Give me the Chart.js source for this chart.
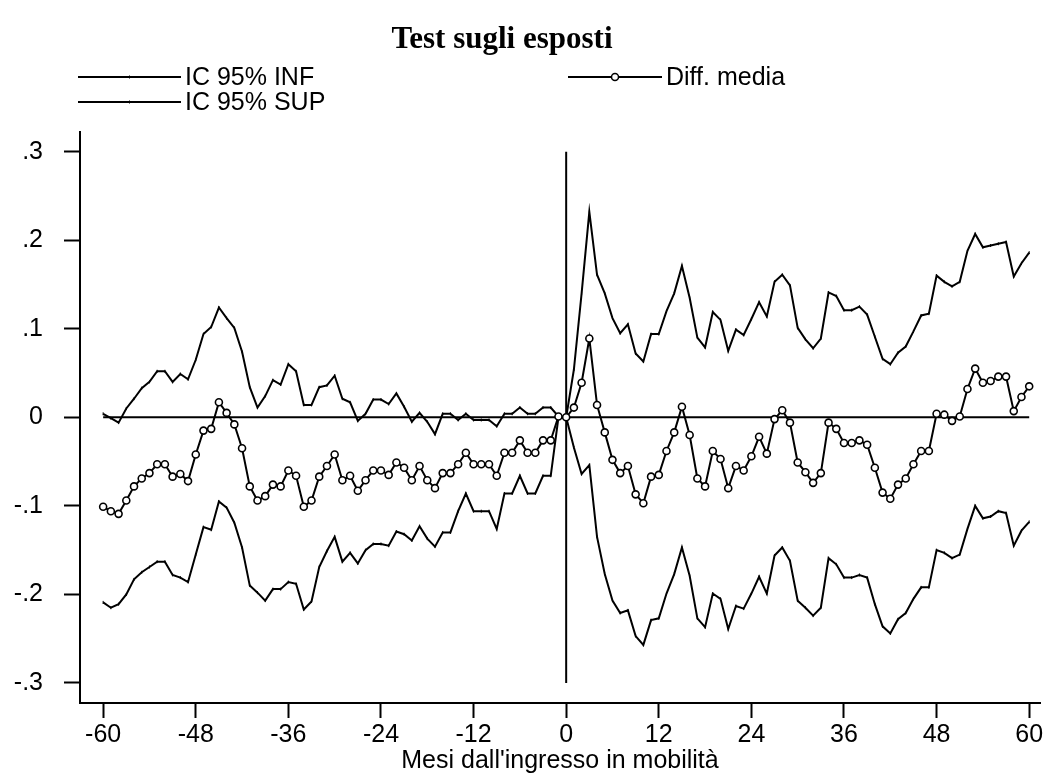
<!DOCTYPE html>
<html>
<head>
<meta charset="utf-8">
<script src="https://cdn.jsdelivr.net/npm/chart.js@4/dist/chart.umd.min.js"></script>
<style>
  html, body { margin: 0; padding: 0; background: #fff; }
  #wrap { width: 1047px; height: 776px; }
</style>
</head>
<body>
<div id="wrap"><canvas id="grafico" width="1047" height="776"></canvas></div>
<script>
// mesi dall'ingresso: da -60 a 60
const mesi = Array.from({ length: 121 }, (_, i) => i - 60);

const icSup = [
    0.004, -0.001, -0.006, 0.010, 0.021, 0.033, 0.040, 0.052, 0.052, 0.040,
    0.049, 0.043, 0.065, 0.094, 0.102, 0.124, 0.112, 0.101, 0.074, 0.034,
    0.011, 0.024, 0.042, 0.037, 0.060, 0.052, 0.014, 0.014, 0.034, 0.036,
    0.047, 0.021, 0.017, -0.004, 0.004, 0.020, 0.020, 0.015, 0.027, 0.012,
    -0.005, 0.005, -0.005, -0.019, 0.004, 0.004, -0.003, 0.004, -0.003, -0.003,
    -0.003, -0.010, 0.004, 0.004, 0.011, 0.004, 0.004, 0.011, 0.011, 0.001,
    0.000, 0.054, 0.140, 0.232, 0.161, 0.140, 0.112, 0.095, 0.105, 0.072,
    0.063, 0.094, 0.094, 0.120, 0.140, 0.171, 0.135, 0.090, 0.079, 0.119,
    0.110, 0.075, 0.099, 0.093, 0.111, 0.130, 0.114, 0.153, 0.161, 0.149,
    0.101, 0.088, 0.078, 0.089, 0.141, 0.137, 0.121, 0.121, 0.125, 0.116,
    0.091, 0.066, 0.060, 0.073, 0.080, 0.097, 0.115, 0.117, 0.160, 0.153,
    0.148, 0.153, 0.188, 0.207, 0.192, 0.194, 0.196, 0.198, 0.159, 0.174,
    0.186
];

const icInf = [
    -0.209, -0.215, -0.211, -0.200, -0.183, -0.175, -0.169, -0.163, -0.163, -0.178,
    -0.181, -0.186, -0.155, -0.124, -0.127, -0.095, -0.102, -0.119, -0.147, -0.190,
    -0.198, -0.207, -0.194, -0.194, -0.186, -0.188, -0.217, -0.208, -0.169, -0.151,
    -0.135, -0.163, -0.153, -0.165, -0.150, -0.143, -0.143, -0.145, -0.129, -0.132,
    -0.139, -0.123, -0.137, -0.146, -0.130, -0.130, -0.106, -0.086, -0.106, -0.106,
    -0.106, -0.126, -0.086, -0.086, -0.066, -0.086, -0.086, -0.066, -0.066, 0.000,
    0.000, -0.034, -0.064, -0.054, -0.135, -0.177, -0.207, -0.221, -0.218, -0.247,
    -0.257, -0.229, -0.227, -0.199, -0.177, -0.147, -0.179, -0.227, -0.237, -0.199,
    -0.205, -0.239, -0.213, -0.216, -0.199, -0.180, -0.199, -0.156, -0.147, -0.162,
    -0.207, -0.215, -0.224, -0.215, -0.159, -0.166, -0.181, -0.181, -0.178, -0.181,
    -0.211, -0.236, -0.244, -0.228, -0.221, -0.205, -0.192, -0.192, -0.150, -0.153,
    -0.159, -0.155, -0.126, -0.100, -0.114, -0.112, -0.106, -0.108, -0.145, -0.128,
    -0.118
];

const diffMedia = [
    -0.101, -0.106, -0.109, -0.094, -0.078, -0.069, -0.063, -0.053, -0.053, -0.067,
    -0.064, -0.072, -0.042, -0.015, -0.013, 0.017, 0.005, -0.008, -0.035, -0.078,
    -0.094, -0.089, -0.076, -0.078, -0.060, -0.066, -0.101, -0.094, -0.067, -0.055,
    -0.042, -0.071, -0.066, -0.083, -0.071, -0.060, -0.060, -0.065, -0.051, -0.057,
    -0.071, -0.055, -0.071, -0.080, -0.063, -0.063, -0.053, -0.040, -0.053, -0.053,
    -0.053, -0.066, -0.040, -0.040, -0.026, -0.040, -0.040, -0.026, -0.026, 0.001,
    0.000, 0.011, 0.039, 0.089, 0.014, -0.017, -0.048, -0.063, -0.055, -0.087,
    -0.097, -0.067, -0.065, -0.038, -0.017, 0.012, -0.020, -0.069, -0.078, -0.038,
    -0.047, -0.080, -0.055, -0.060, -0.044, -0.022, -0.041, -0.002, 0.008, -0.006,
    -0.051, -0.062, -0.074, -0.063, -0.006, -0.013, -0.029, -0.029, -0.026, -0.031,
    -0.057, -0.085, -0.092, -0.076, -0.069, -0.053, -0.038, -0.038, 0.004, 0.003,
    -0.004, 0.001, 0.032, 0.055, 0.039, 0.041, 0.046, 0.046, 0.007, 0.023,
    0.035
];

const tickMesi = [-60, -48, -36, -24, -12, 0, 12, 24, 36, 48, 60];
const tickValori = [-0.3, -0.2, -0.1, 0, 0.1, 0.2, 0.3];

// linee di riferimento: zero orizzontale e ingresso in mobilità (mese 0)
const lineaZero = [{ x: -60, y: 0 }, { x: 60, y: 0 }];
const lineaIngresso = [{ x: 0, y: -0.3 }, { x: 0, y: 0.3 }];

const serie = vals => mesi.map((m, i) => ({ x: m, y: vals[i] }));

function etichettaY(v) {
    if (Math.abs(v) < 1e-9) return '0';
    return (v < 0 ? '-' : '') + Math.abs(v).toFixed(1).replace(/^0/, '');
}

Chart.defaults.font.family = "'Liberation Sans', Arial, Helvetica, sans-serif";
Chart.defaults.color = '#000';

// titolo e legenda disegnati a mano, nello stile Stata
const titoloLegenda = {
    id: 'titoloLegenda',
    afterDraw(chart) {
        const ctx = chart.ctx;
        const ds = chart.data.datasets;
        ctx.save();
        ctx.fillStyle = '#000';
        ctx.strokeStyle = '#000';

        ctx.font = "bold 31px 'Liberation Serif', 'Times New Roman', serif";
        ctx.textAlign = 'center';
        ctx.textBaseline = 'middle';
        ctx.fillText('Test sugli esposti', 502, 40);

        ctx.font = "25px 'Liberation Sans', Arial, sans-serif";
        ctx.textAlign = 'left';
        ctx.lineWidth = 2;

        const voce = (x0, x1, y, testo, cerchio) => {
            ctx.beginPath();
            ctx.moveTo(x0, y);
            ctx.lineTo(x1, y);
            ctx.stroke();
            const xm = (x0 + x1) / 2;
            if (cerchio) {
                ctx.beginPath();
                ctx.lineWidth = 1.5;
                ctx.fillStyle = '#fff';
                ctx.arc(xm, y, 3.5, 0, Math.PI * 2);
                ctx.fill();
                ctx.stroke();
                ctx.fillStyle = '#000';
                ctx.lineWidth = 2;
            } else {
                ctx.beginPath();
                ctx.lineWidth = 1;
                ctx.moveTo(xm, y - 1.5);
                ctx.lineTo(xm, y + 1.5);
                ctx.stroke();
                ctx.lineWidth = 2;
            }
            ctx.fillText(testo, x1 + 4, y + 1);
        };

        voce(78, 181, 77, ds[0].label, false);
        voce(78, 181, 102, ds[1].label, false);
        voce(568, 662, 77, ds[2].label, true);
        ctx.restore();
    }
};

const ctx = document.getElementById('grafico').getContext('2d');
new Chart(ctx, {
    type: 'line',
    data: {
        datasets: [
            {
                label: 'IC 95% INF',
                data: serie(icInf),
                borderColor: '#000',
                borderWidth: 2,
                pointStyle: 'line',
                rotation: 90,
                pointRadius: 1.5,
                pointBorderWidth: 1,
                pointBorderColor: '#000',
                tension: 0,
                order: 3
            },
            {
                label: 'IC 95% SUP',
                data: serie(icSup),
                borderColor: '#000',
                borderWidth: 2,
                pointStyle: 'line',
                rotation: 90,
                pointRadius: 1.5,
                pointBorderWidth: 1,
                pointBorderColor: '#000',
                tension: 0,
                order: 3
            },
            {
                label: 'Diff. media',
                data: serie(diffMedia),
                borderColor: '#000',
                borderWidth: 2,
                pointStyle: 'circle',
                pointRadius: 3.5,
                pointBorderWidth: 1.6,
                pointBorderColor: '#000',
                pointBackgroundColor: '#fff',
                tension: 0,
                order: 1
            },
            {
                label: 'zero',
                data: lineaZero,
                borderColor: '#000',
                borderWidth: 2,
                pointRadius: 0,
                order: 4
            },
            {
                label: 'ingresso',
                data: lineaIngresso,
                borderColor: '#000',
                borderWidth: 2,
                pointRadius: 0,
                order: 4
            }
        ]
    },
    options: {
        responsive: false,
        animation: false,
        layout: { padding: { top: 132, right: 7, left: 0, bottom: 0 } },
        plugins: {
            legend: { display: false },
            title: { display: false },
            tooltip: { enabled: false }
        },
        scales: {
            x: {
                type: 'linear',
                min: -63,
                max: 61.4,
                afterBuildTicks: s => { s.ticks = tickMesi.map(v => ({ value: v })); },
                afterFit: s => { s.height = 73; },
                grid: { display: true, drawOnChartArea: false, drawTicks: true, tickLength: 15, tickColor: '#000', tickWidth: 2 },
                border: { display: true, color: '#000', width: 2 },
                ticks: { color: '#000', font: { size: 25 }, padding: 2, maxRotation: 0, autoSkip: false },
                title: {
                    display: true,
                    text: "Mesi dall'ingresso in mobilità",
                    color: '#000',
                    font: { size: 25 },
                    padding: { top: 0, bottom: 0 }
                }
            },
            y: {
                type: 'linear',
                min: -0.3226,
                max: 0.3222,
                afterBuildTicks: s => { s.ticks = tickValori.map(v => ({ value: v })); },
                afterFit: s => { s.width = 80; },
                grid: { display: true, drawOnChartArea: false, drawTicks: true, tickLength: 16, tickColor: '#000', tickWidth: 2 },
                border: { display: true, color: '#000', width: 2 },
                ticks: { color: '#000', font: { size: 25 }, padding: 21, callback: etichettaY }
            }
        }
    },
    plugins: [titoloLegenda]
});
</script>
</body>
</html>
